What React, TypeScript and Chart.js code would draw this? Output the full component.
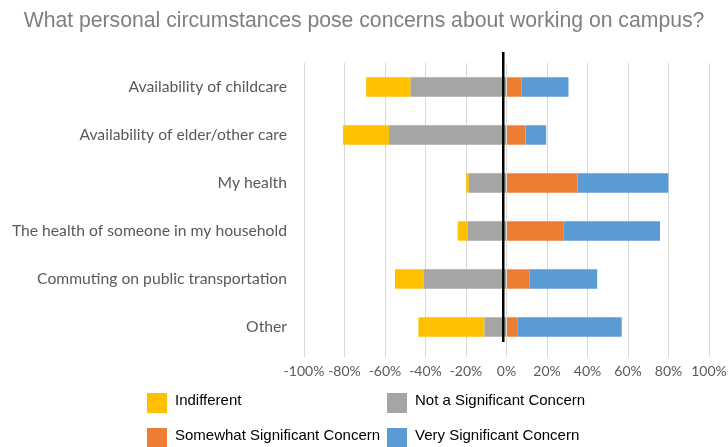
import React, { useEffect, useRef } from "react";
import { Chart, registerables } from "chart.js";

Chart.register(...registerables);

const categories = [
  "Availability of childcare",
  "Availability of elder/other care",
  "My health",
  "The health of someone in my household",
  "Commuting on public transportation",
  "Other",
];
// percentages of respondents
const indifferent = [22, 22.7, 1.3, 4.8, 14.3, 32.6];
const notSignificant = [47.3, 58, 18.6, 19.3, 40.8, 10.9];
const somewhatSignificant = [7.4, 9.4, 35.1, 28.3, 11.5, 5.6];
const verySignificant = [23.2, 10.2, 44.8, 47.5, 33.3, 51.3];

const xTicks = [-100, -80, -60, -40, -20, 0, 20, 40, 60, 80, 100];

const titleText = "What personal circumstances pose concerns about working on campus?";

const seriesNames = [
  "Indifferent",
  "Not a Significant Concern",
  "Somewhat Significant Concern",
  "Very Significant Concern",
];
const seriesColors = ["#FFC000", "#A5A5A5", "#ED7D31", "#5B9BD5"];

const zeroLinePlugin = {
  id: "zeroLine",
  afterDatasetsDraw(chart: any) {
    const x = chart.scales.x.getPixelForValue(-1.6);
    const { top, bottom } = chart.chartArea;
    const ctx = chart.ctx;
    ctx.save();
    ctx.strokeStyle = "#000000";
    ctx.lineWidth = 2.5;
    ctx.beginPath();
    ctx.moveTo(x, top - 11);
    ctx.lineTo(x, bottom - 9);
    ctx.stroke();
    ctx.restore();
  },
};

export default function App() {
  const canvasRef = useRef<HTMLCanvasElement | null>(null);

  useEffect(() => {
    document.body.style.margin = "0";
    const canvas = canvasRef.current;
    if (!canvas) return;
    const chart = new Chart(canvas, {
      type: "bar",
      data: {
        labels: categories,
        datasets: [
          {
            label: seriesNames[1],
            data: notSignificant.map((v) => -v),
            backgroundColor: seriesColors[1],
          },
          {
            label: seriesNames[0],
            data: indifferent.map((v) => -v),
            backgroundColor: seriesColors[0],
          },
          {
            label: seriesNames[2],
            data: somewhatSignificant,
            backgroundColor: seriesColors[2],
          },
          {
            label: seriesNames[3],
            data: verySignificant,
            backgroundColor: seriesColors[3],
          },
        ],
      },
      options: {
        indexAxis: "y",
        animation: false,
        responsive: false,
        maintainAspectRatio: false,
        layout: { padding: { left: 0, right: 19, top: 63, bottom: 64 } },
        datasets: {
          bar: { barPercentage: 1, categoryPercentage: 0.405 },
        },
        plugins: {
          legend: { display: false },
          tooltip: { enabled: false },
          title: { display: false },
        },
        scales: {
          x: {
            stacked: true,
            min: -100,
            max: 100,
            afterBuildTicks(scale: any) {
              scale.ticks = xTicks.map((v) => ({ value: v }));
            },
            afterFit(scale: any) {
              scale.height = 32;
              scale.paddingLeft = 0;
              scale.paddingRight = 0;
            },
            grid: { color: "#d9d9d9", lineWidth: 1, tickLength: 6, drawTicks: true },
            border: { display: false },
            ticks: {
              color: "#595959",
              font: { family: "Lato, 'Open Sans', sans-serif", size: 14 },
              padding: 6,
              maxRotation: 0,
              autoSkip: false,
              callback: (v: any) => v + "%",
            },
          },
          y: {
            stacked: true,
            afterFit(scale: any) {
              scale.width = 304;
            },
            grid: { display: false, drawTicks: false },
            border: { display: false },
            ticks: {
              color: "#595959",
              font: { family: "Lato, 'Open Sans', sans-serif", size: 15.7 },
              padding: 17,
            },
          },
        },
      },
      plugins: [zeroLinePlugin],
    });
    return () => chart.destroy();
  }, []);

  const legendItems = [
    { i: 0, left: 147, top: 393 },
    { i: 1, left: 387, top: 393 },
    { i: 2, left: 147, top: 428 },
    { i: 3, left: 387, top: 428 },
  ];

  return (
    <div style={{ position: "absolute", left: 0, top: 0, width: 728, height: 447, background: "#fff", overflow: "hidden" }}>
      <canvas ref={canvasRef} width={728} height={447} style={{ display: "block" }} />
      <div
        style={{
          position: "absolute",
          left: 0,
          top: 9.4,
          width: 728,
          textAlign: "center",
          fontFamily: "'Liberation Sans', Arial, sans-serif",
          fontSize: 21.2,
          lineHeight: "21.2px",
          color: "#7f7f7f",
          whiteSpace: "nowrap",
        }}
      >
        {titleText}
      </div>
      {legendItems.map((it) => (
        <div key={it.i} style={{ position: "absolute", left: it.left, top: it.top, display: "flex", alignItems: "flex-start" }}>
          <div style={{ width: 20, height: 20, background: seriesColors[it.i] }} />
          <span
            style={{
              marginLeft: 8,
              fontFamily: "'Liberation Sans', Arial, sans-serif",
              fontSize: 15,
              lineHeight: "15px",
              color: "#000",
              marginTop: -1,
            }}
          >
            {seriesNames[it.i]}
          </span>
        </div>
      ))}
    </div>
  );
}
